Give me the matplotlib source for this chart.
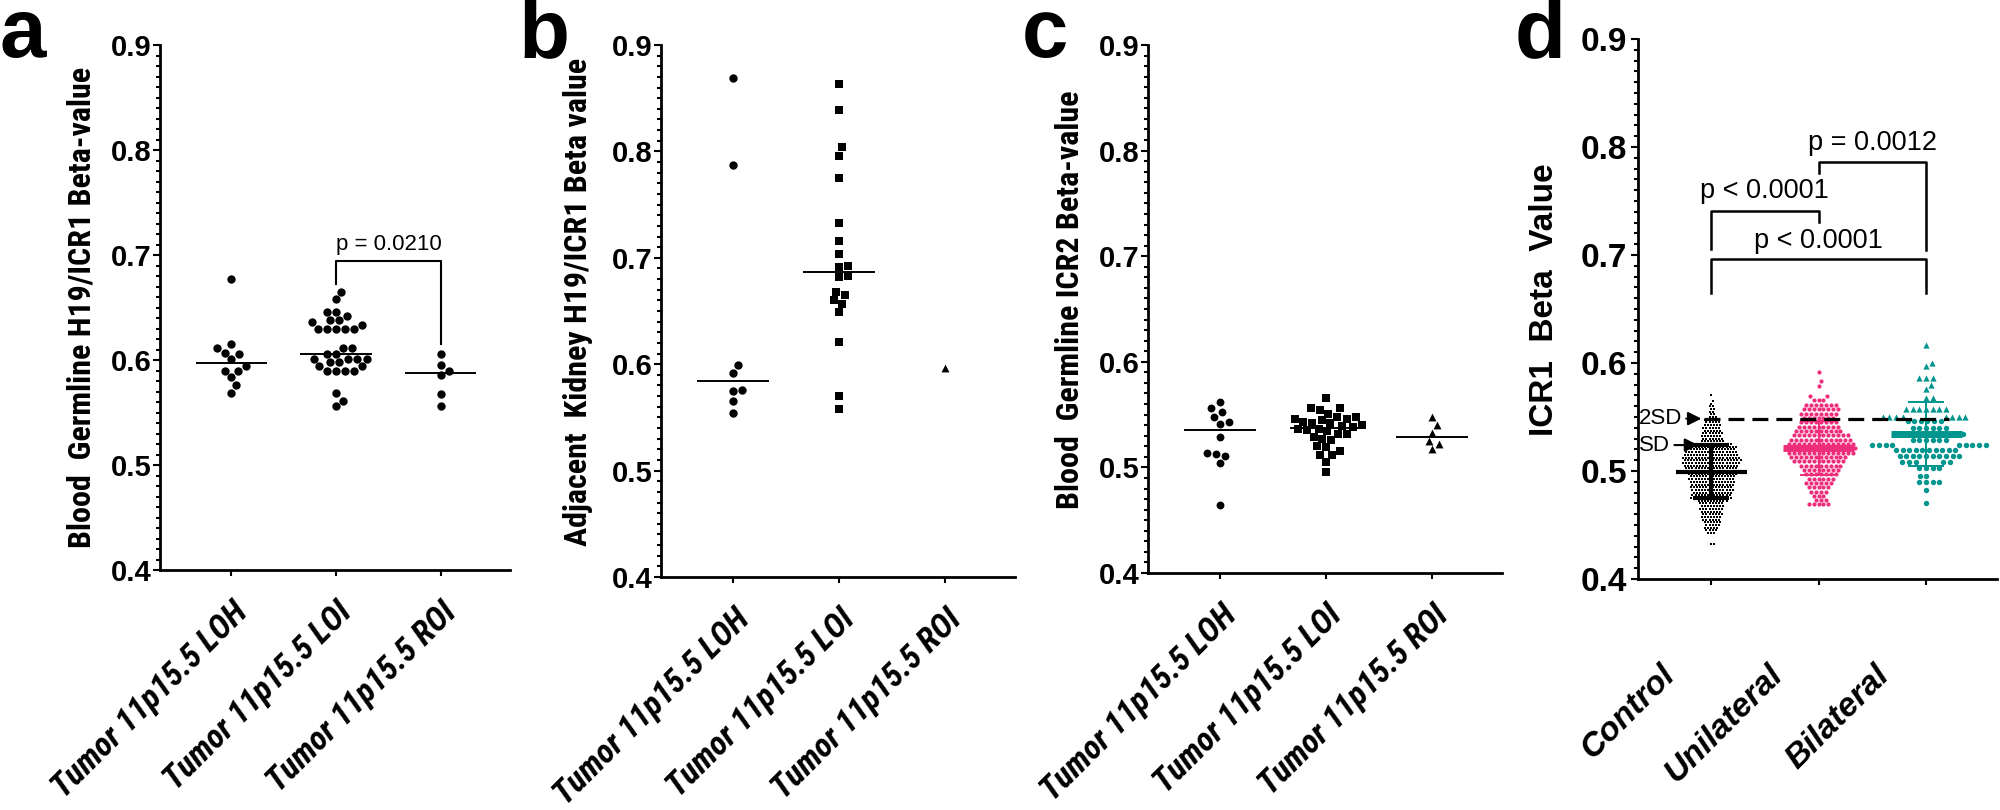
import numpy as np
import matplotlib
matplotlib.use("Agg")
import matplotlib.pyplot as plt
import matplotlib.transforms as mtransforms
from matplotlib import font_manager as fm

plt.rcParams['font.family'] = ['Liberation Sans', 'DejaVu Sans']


def has_font(name):
    try:
        fm.findfont(fm.FontProperties(family=name), fallback_to_default=False)
        return True
    except Exception:
        return False


NARROW_NAME = None
for _n in ["Liberation Sans Narrow", "Arial Narrow", "Roboto Condensed"]:
    if has_font(_n):
        NARROW_NAME = _n
        break

# ---------------- data ----------------
cats_abc = ["Tumor 11p15.5 LOH", "Tumor 11p15.5 LOI", "Tumor 11p15.5 ROI"]
cats_d = ["Control", "Unilateral", "Bilateral"]

# panel a : Blood germline H19/ICR1
a_loh = [0.677, 0.615, 0.611, 0.606, 0.607, 0.601, 0.590, 0.590, 0.594, 0.584, 0.576, 0.569]
a_loi = [0.665, 0.658, 0.646, 0.646, 0.642, 0.638, 0.638, 0.636, 0.633, 0.630, 0.630, 0.630,
         0.630, 0.630, 0.611, 0.611, 0.606, 0.606, 0.601, 0.601, 0.601, 0.601, 0.598, 0.598,
         0.594, 0.594, 0.590, 0.590, 0.590, 0.590, 0.569, 0.561, 0.556]
a_roi = [0.606, 0.595, 0.590, 0.586, 0.568, 0.556]

# panel b : adjacent kidney H19/ICR1
b_loh = [0.869, 0.787, 0.599, 0.592, 0.576, 0.575, 0.565, 0.554]
b_loi = [0.863, 0.839, 0.804, 0.796, 0.775, 0.733, 0.716, 0.704, 0.692, 0.691, 0.683, 0.682,
         0.668, 0.665, 0.660, 0.657, 0.649, 0.621, 0.570, 0.558]
b_roi = [0.596]

# panel c : blood germline ICR2
c_loh = [0.562, 0.556, 0.552, 0.548, 0.543, 0.5415, 0.529, 0.5135, 0.513, 0.511, 0.504, 0.464]
c_loi = [0.566, 0.556, 0.556, 0.554, 0.551, 0.548, 0.548, 0.546, 0.546, 0.545, 0.543, 0.542,
         0.542, 0.540, 0.539, 0.538, 0.536, 0.536, 0.535, 0.534, 0.5315, 0.5315, 0.529, 0.527,
         0.526, 0.520, 0.519, 0.516, 0.512, 0.512, 0.5055, 0.496]
c_roi = [0.548, 0.540, 0.533, 0.525, 0.522, 0.517]

# panel d : ICR1 beta value (row value, number of points in the row)
ctrl_levels = [0.4325, 0.4425, 0.445, 0.4475, 0.450, 0.4525, 0.455, 0.4575, 0.460, 0.4625,
               0.465, 0.4675, 0.470, 0.4725, 0.475, 0.4775, 0.480, 0.4825, 0.485, 0.4875,
               0.490, 0.4925, 0.495, 0.4975, 0.500, 0.5025, 0.505, 0.5075, 0.510, 0.5125,
               0.515, 0.5175, 0.520, 0.5225, 0.525, 0.5275, 0.530, 0.5325, 0.535, 0.5375,
               0.540, 0.5425, 0.545, 0.5475, 0.550, 0.5525, 0.555, 0.5575, 0.560, 0.5625,
               0.565, 0.570]
ctrl_counts = [2, 3, 4, 5, 5, 6, 6, 7, 7, 7,
               8, 8, 8, 10, 14, 13, 13, 14, 14, 14,
               15, 15, 15, 16, 16, 17, 18, 19, 19, 19,
               18, 17, 15, 16, 14, 8, 7, 7, 7, 6,
               6, 6, 5, 5, 3, 2, 2, 2, 2, 1,
               1, 1]
uni_levels = [0.592, 0.583, 0.579, 0.569, 0.566, 0.561, 0.557, 0.553, 0.549, 0.545, 0.541,
              0.537, 0.533, 0.529, 0.525, 0.521, 0.517, 0.513, 0.509, 0.505, 0.501, 0.497,
              0.493, 0.489, 0.485, 0.481, 0.477, 0.473, 0.469]
uni_counts = [1, 1, 1, 2, 3, 7, 8, 8, 7, 8, 9,
              10, 12, 13, 14, 15, 14, 12, 11, 9, 8, 7,
              6, 6, 5, 4, 3, 3, 5]
bil_levels = [0.617, 0.600, 0.597, 0.586, 0.580, 0.576, 0.568, 0.5575, 0.550, 0.546, 0.540,
              0.534, 0.529, 0.524, 0.519, 0.5135, 0.508, 0.503, 0.4957, 0.4896, 0.4826, 0.4703]
bil_counts = [1, 1, 1, 3, 1, 1, 2, 7, 8, 6, 6,
              6, 6, 9, 10, 10, 5, 4, 2, 4, 1, 1]

# summary statistics (mean, SD)
d_means = [0.4995, 0.521, 0.5343]
d_sds = [0.0245, 0.025, 0.0294]

# p-values
p_a = "p = 0.0210"
p_d = ["p < 0.0001", "p = 0.0012", "p < 0.0001"]

# ---------------- helpers ----------------
W, H = 2000, 810
fig = plt.figure(figsize=(W / 100, H / 100), dpi=100)

if NARROW_NAME:
    LAB_FAMILY = [NARROW_NAME, "Liberation Sans"]
    YLAB_SIZE = 23
    XLAB_SIZE = 24
else:
    LAB_FAMILY = ["Liberation Sans"]
    YLAB_SIZE = 19.5
    XLAB_SIZE = 20


def px_axes(x0, x1, ytop, ybot):
    return fig.add_axes([x0 / W, 1 - ybot / H, (x1 - x0) / W, (ybot - ytop) / H])


def swarm(ax, xc, yvals, d):
    yvals = np.asarray(yvals, dtype=float)
    pts = ax.transData.transform(np.column_stack([np.full(len(yvals), xc), yvals]))
    ys = pts[:, 1]
    x0 = pts[0, 0]
    order = np.argsort(ys, kind="stable")
    placed = []
    xs = np.zeros(len(ys))
    for i in order:
        y = ys[i]
        neigh = [(px, py) for px, py in placed if abs(py - y) < d]
        cands = [0.0]
        for px, py in neigh:
            dx = np.sqrt(max(d * d - (py - y) ** 2, 0))
            cands += [px + dx, px - dx]
        cands = sorted(cands, key=lambda c: (round(abs(c), 6), -c))
        for c in cands:
            if all((c - px) ** 2 + (y - py) ** 2 >= d * d - 1e-6 for px, py in neigh):
                xs[i] = c
                break
        placed.append((xs[i], y))
    inv = ax.transData.inverted()
    return inv.transform(np.column_stack([x0 + xs, ys]))[:, 0], yvals


def style_axes(ax, yfs):
    ax.set_xlim(-0.68, 2.66)
    ax.set_ylim(0.4, 0.9)
    for s in ("top", "right"):
        ax.spines[s].set_visible(False)
    for s in ("left", "bottom"):
        ax.spines[s].set_linewidth(2.0)
    ax.set_yticks([0.4, 0.5, 0.6, 0.7, 0.8, 0.9])
    ax.set_yticklabels(["0.4", "0.5", "0.6", "0.7", "0.8", "0.9"], fontsize=yfs, fontweight="bold")
    ax.set_yticks(np.round(np.arange(0.4, 0.9001, 0.01), 3), minor=True)
    ax.tick_params(axis="y", which="major", length=5, width=1.5, pad=1)
    ax.tick_params(axis="y", which="minor", length=3, width=1.5)
    ax.set_xticks([0, 1, 2])
    ax.tick_params(axis="x", length=4, width=1.5)


def median_line(ax, xc, vals, half=0.33, lw=1.4, color="k"):
    if len(vals) > 1:
        m = np.median(vals)
        ax.plot([xc - half, xc + half], [m, m], color=color, lw=lw, zorder=3)


def abc_xlabels(ax):
    ax.set_xticklabels(cats_abc, rotation=45, ha="right", va="top", rotation_mode="anchor",
                       fontsize=XLAB_SIZE, fontweight="bold", fontstyle="italic",
                       family=LAB_FAMILY)
    ax.tick_params(axis="x", pad=15)


# ---------------- panel a ----------------
axa = px_axes(160, 510, 45, 570)
style_axes(axa, 21)
abc_xlabels(axa)
for i, vals in enumerate([a_loh, a_loi, a_roi]):
    xs, ys = swarm(axa, i, vals, 9.0)
    axa.scatter(xs, ys, s=36, marker="o", color="k", linewidths=0, zorder=4)
    median_line(axa, i, vals)
axa.plot([1, 1, 2, 2], [0.672, 0.694, 0.694, 0.615], color="k", lw=1.5)
axa.text(1.5, 0.700, p_a, ha="center", va="bottom", fontsize=16)
axa.set_ylabel("Blood  Germline H19/ICR1 Beta-value", fontsize=YLAB_SIZE, fontweight="bold",
               family=LAB_FAMILY)
axa.yaxis.set_label_coords(-0.18, 0.5)

# ---------------- panel b ----------------
axb = px_axes(661, 1015, 45, 577)
style_axes(axb, 21)
abc_xlabels(axb)
for i, (vals, mk, sz) in enumerate([(b_loh, "o", 36), (b_loi, "s", 38), (b_roi, "^", 32)]):
    xs, ys = swarm(axb, i, vals, 9.0)
    axb.scatter(xs, ys, s=sz, marker=mk, color="k", linewidths=0, zorder=4)
    median_line(axb, i, vals)
axb.set_ylabel("Adjacent  Kidney H19/ICR1 Beta value", fontsize=YLAB_SIZE, fontweight="bold",
               family=LAB_FAMILY)
axb.yaxis.set_label_coords(-0.192, 0.517)

# ---------------- panel c ----------------
axc = px_axes(1148, 1502, 45, 573)
style_axes(axc, 21)
abc_xlabels(axc)
for i, (vals, mk, sz) in enumerate([(c_loh, "o", 32), (c_loi, "s", 38), (c_roi, "^", 32)]):
    xs, ys = swarm(axc, i, vals, 9.0)
    axc.scatter(xs, ys, s=sz, marker=mk, color="k", linewidths=0, zorder=4)
    median_line(axc, i, vals)
axc.set_ylabel("Blood  Germline ICR2 Beta-value", fontsize=YLAB_SIZE, fontweight="bold",
               family=LAB_FAMILY)
axc.yaxis.set_label_coords(-0.178, 0.517)

# ---------------- panel d ----------------
PINK = "#EE2D7B"
TEAL = "#00958D"
axd = px_axes(1638, 1997, 39, 579)
style_axes(axd, 24)
axd.tick_params(axis="y", which="major", pad=3)
axd.set_xticklabels(cats_d, rotation=45, ha="right", va="top", rotation_mode="anchor",
                    fontsize=24, fontweight="bold", fontstyle="italic")
axd.tick_params(axis="x", pad=54)
shift = mtransforms.ScaledTranslation(-0.52, 0, fig.dpi_scale_trans)
for lab in axd.get_xticklabels():
    lab.set_transform(lab.get_transform() + shift)

ctrl = np.repeat(ctrl_levels, ctrl_counts)
uni = np.repeat(uni_levels, uni_counts)
bil = np.repeat(bil_levels, bil_counts)
thr = d_means[0] + 2 * d_sds[0]

xs, ys = swarm(axd, 0, ctrl, 3.1)
axd.scatter(xs, ys, s=2.2, marker="s", color="k", linewidths=0, zorder=3)
xs, ys = swarm(axd, 1, uni, 4.9)
axd.scatter(xs, ys, s=9, marker="o", color=PINK, linewidths=0, zorder=3)
xs, ys = swarm(axd, 2, bil, 6.6)
hi = ys > thr
axd.scatter(xs[~hi], ys[~hi], s=15, marker="o", color=TEAL, linewidths=0, zorder=3)
axd.scatter(xs[hi], ys[hi], s=20, marker="^", color=TEAL, linewidths=0, zorder=3)

# mean and SD bars
specs = [(0, "k", 3.0, 3.0, 3.0), (1, PINK, 5.0, 1.4, 1.4), (2, TEAL, 5.0, 1.4, 1.4)]
for i, col, lw_mean, lw_cap, lw_v in specs:
    m, s = d_means[i], d_sds[i]
    axd.plot([i - 0.33, i + 0.33], [m, m], color=col, lw=lw_mean, zorder=5, solid_capstyle="butt")
    for yy in (m - s, m + s):
        axd.plot([i - 0.17, i + 0.17], [yy, yy], color=col, lw=lw_cap, zorder=5, solid_capstyle="butt")
    axd.plot([i, i], [m - s, m + s], color=col, lw=lw_v, zorder=5)

# 2SD dashed line
axd.plot([-0.07, 2.21], [thr, thr], color="k", lw=2.3, ls=(0, (5, 2.5)), zorder=6)
sd1 = d_means[0] + d_sds[0]
axd.annotate("2SD", xy=(-0.09, thr), xytext=(-0.27, thr), textcoords="data",
             ha="right", va="center", fontsize=16,
             arrowprops=dict(arrowstyle="-|>", color="k", lw=1.5, mutation_scale=20,
                             shrinkA=1, shrinkB=0), zorder=7, annotation_clip=False)
axd.annotate("SD", xy=(-0.12, sd1), xytext=(-0.38, sd1), textcoords="data",
             ha="right", va="center", fontsize=16,
             arrowprops=dict(arrowstyle="-|>", color="k", lw=1.5, mutation_scale=20,
                             shrinkA=1, shrinkB=0), zorder=7, annotation_clip=False)

# significance brackets
axd.plot([0, 0, 1, 1], [0.706, 0.741, 0.741, 0.731], color="k", lw=1.8)
axd.text(0.5, 0.747, p_d[0], ha="center", va="bottom", fontsize=19.5)
axd.plot([1, 1, 2, 2], [0.776, 0.786, 0.786, 0.705], color="k", lw=1.8)
axd.text(1.5, 0.792, p_d[1], ha="center", va="bottom", fontsize=19.5)
axd.plot([0, 0, 2, 2], [0.665, 0.696, 0.696, 0.665], color="k", lw=1.8)
axd.text(1.0, 0.701, p_d[2], ha="center", va="bottom", fontsize=19.5)

axd.set_ylabel("ICR1  Beta  Value", fontsize=24, fontweight="bold")
axd.yaxis.set_label_coords(-0.217, 0.518)

# panel letters
for x, lab in [(0, "a"), (518, "b"), (1022, "c"), (1515, "d")]:
    fig.text(x / W, 1 - 57 / H, lab, fontsize=60, fontweight="bold", ha="left", va="baseline")

fig.savefig("out.png", dpi=100)
